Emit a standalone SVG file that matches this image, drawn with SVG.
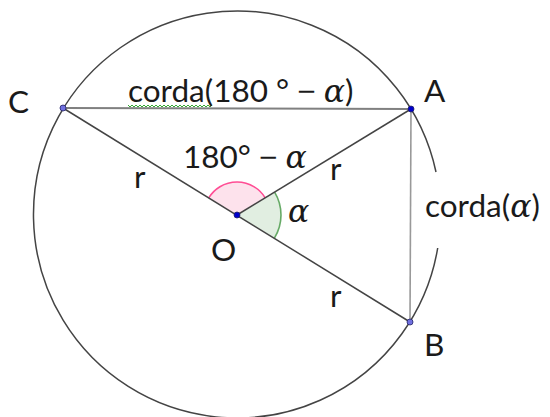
<svg xmlns="http://www.w3.org/2000/svg" width="550" height="417" viewBox="0 0 550 417">
<style>
.t{font-family:Lato,"Liberation Sans",sans-serif;font-size:31.5px;fill:#1a1a1a}
.g{font-family:"DejaVu Serif","Liberation Serif",serif;font-style:italic}
.m{font-family:"Liberation Sans",sans-serif}
.ln{stroke:#444;stroke-width:1.5;fill:none}
.pt{stroke:#222266;stroke-width:0.8}
</style>
<rect width="550" height="417" fill="#fff"/>
<g id="angles">
<path d="M237,215 L274.6,192.1 A44,44 0 0,1 274.4,238.1 Z" fill="#e1eee1"/>
<path d="M274.6,192.1 A44,44 0 0,1 274.4,238.1" fill="none" stroke="#66aa66" stroke-width="1.6"/>
<path d="M237,215 L208.9,197.7 A33,33 0 0,1 265.2,197.8 Z" fill="#fde2ec"/>
<path d="M208.9,197.7 A33,33 0 0,1 265.2,197.8" fill="none" stroke="#ff4d94" stroke-width="1.6"/>
</g>
<g id="circle">
<path d="M437.7,248 A203.5,203.5 0 1,1 436,172" class="ln" stroke="#555"/>
</g>
<g id="connectors">
<line x1="63" y1="108" x2="411" y2="109" stroke="#808080" stroke-width="2"/>
<line x1="411" y1="109" x2="410" y2="322" stroke="#999" stroke-width="1.6"/>
<line x1="63" y1="108" x2="410" y2="322" class="ln"/>
<line x1="237" y1="215" x2="411" y2="109" class="ln"/>
<polyline points="128,105 130,107 132,105 134,107 136,105 138,107 140,105 142,107 144,105 146,107 148,105 150,107 152,105 154,107 156,105 158,107 160,105 162,107 164,105 166,107 168,105 170,107 172,105 174,107 176,105 178,107 180,105 182,107 184,105 186,107 188,105 190,107 192,105 194,107 196,105 198,107 200,105 202,107 204,105 206,107 208,105 210,107 212,105" fill="none" stroke="#33aa33" stroke-width="1"/>
</g>
<g id="node-C"><circle cx="63" cy="108" r="3" fill="#7070e0" class="pt"/><text class="t" x="8" y="113">C</text></g>
<g id="node-A"><circle cx="411" cy="109" r="3" fill="#0000cc" class="pt"/><text class="t" x="424" y="102">A</text></g>
<g id="node-B"><circle cx="410" cy="322" r="3" fill="#7070e0" class="pt"/><text class="t" x="424" y="356">B</text></g>
<g id="node-O"><circle cx="237" cy="215" r="3" fill="#0000cc" class="pt"/><text class="t" x="211" y="261">O</text></g>
<g id="labels">
<text class="t" x="128" y="102">corda(180 ° <tspan class="m">−</tspan> <tspan class="g">α</tspan>)</text>
<text class="t" x="183" y="168">180° <tspan class="m">−</tspan> <tspan class="g">α</tspan></text>
<text class="t" x="425" y="217">corda(<tspan class="g">α</tspan>)</text>
<text class="t" x="288" y="222"><tspan class="g">α</tspan></text>
<text class="t" x="134" y="188">r</text>
<text class="t" x="330" y="180">r</text>
<text class="t" x="330" y="307">r</text>
</g>
</svg>
